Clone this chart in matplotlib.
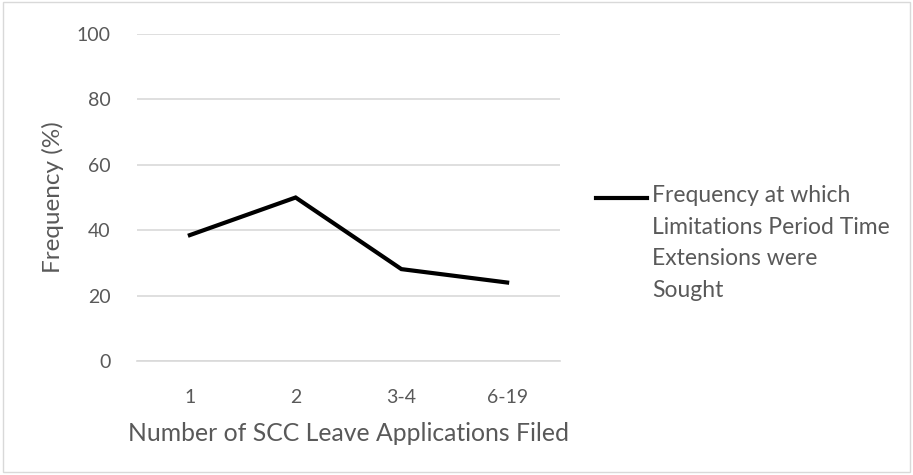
import matplotlib
matplotlib.use("Agg")
import matplotlib.pyplot as plt
from matplotlib.lines import Line2D
from matplotlib.patches import Rectangle

# data
categories = ["1", "2", "3-4", "6-19"]
freq_pct = [38.5, 50.0, 28.1, 24.0]
series_label = "Frequency at which\nLimitations Period Time\nExtensions were\nSought"
y_ticks = [0, 20, 40, 60, 80, 100]

GREY_TXT = "#595959"
GRID = "#d9d9d9"
W, H = 913, 475
plt.rcParams["font.family"] = ["Lato", "DejaVu Sans"]

fig = plt.figure(figsize=(W / 100, H / 100), dpi=100)
ax = fig.add_axes([137 / W, 1 - 361 / H, (560 - 137) / W, (361 - 34) / H])

x = list(range(len(categories)))
ax.plot(x, freq_pct, color="black", lw=3, solid_joinstyle="miter")

ax.set_xlim(-0.5, len(categories) - 0.5)
ax.set_ylim(0, 100)
ax.set_yticks(y_ticks)
ax.set_xticks(x)
ax.set_xticklabels(categories)
ax.yaxis.grid(True, color=GRID, lw=1.2)
ax.set_axisbelow(True)
for s in ("top", "right", "left"):
    ax.spines[s].set_visible(False)
ax.spines["bottom"].set_color(GRID)
ax.spines["bottom"].set_linewidth(1.2)
ax.tick_params(length=0, labelsize=14, colors=GREY_TXT)
ax.tick_params(axis="y", pad=19)
ax.tick_params(axis="x", pad=20)

ax.set_ylabel("Frequency (%)", fontsize=17.5, color=GREY_TXT, labelpad=9)
ax.set_xlabel("Number of SCC Leave Applications Filed", fontsize=17.8, color=GREY_TXT, labelpad=12)

# legend drawn by hand so the key sits on the first text line
fig.add_artist(Line2D([596 / W, 647 / W], [1 - 198 / H] * 2, transform=fig.transFigure,
                      color="black", lw=3))
# va="baseline" anchors the last line's baseline
fig.text(652 / W, 1 - 297 / H, series_label, fontsize=16.5, color=GREY_TXT,
         va="baseline", ha="left", linespacing=1.62)

fig.patches.append(Rectangle((0.003, 0.006), 0.994, 0.99, transform=fig.transFigure,
                             fill=False, edgecolor=GRID, lw=1))

fig.savefig("out.png", dpi=100)
